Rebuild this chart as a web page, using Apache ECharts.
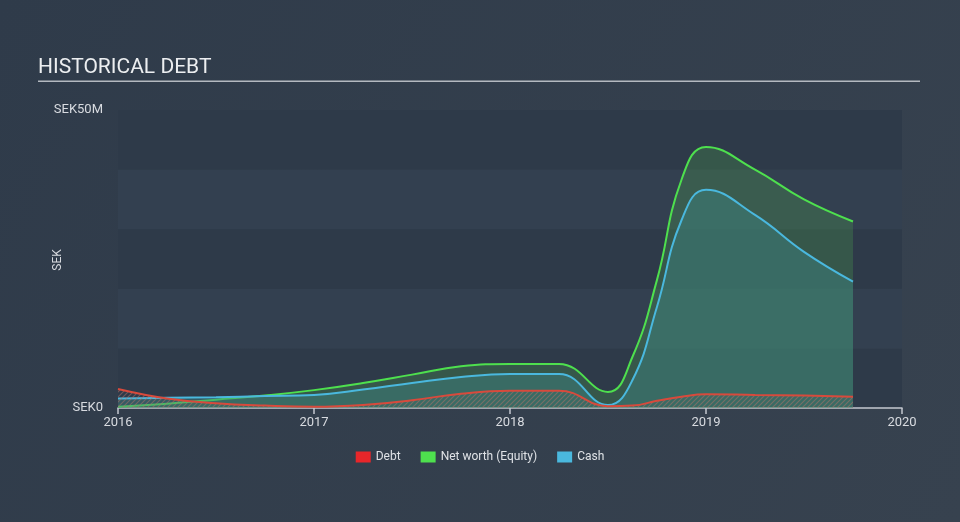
<!DOCTYPE html>
<html>
<head>
<meta charset="utf-8">
<script src="https://cdn.jsdelivr.net/npm/echarts@6/dist/echarts.min.js"></script>
<style>
html,body{margin:0;padding:0;background:#323e4c;}
#c{width:960px;height:522px;}
</style>
</head>
<body>
<div id="c"></div>
<script>
// Data (values in SEK millions)
const years = [2016, 2016.25, 2016.5, 2016.75, 2017, 2017.25, 2017.5, 2017.75, 2018, 2018.25, 2018.5, 2018.625, 2018.75, 2018.875, 2019, 2019.25, 2019.5, 2019.75];
const debt = [3.2, 1.6, 0.8, 0.4, 0.2, 0.5, 1.3, 2.4, 2.9, 2.9, 0.3, 0.4, 1.2, 1.9, 2.3, 2.2, 2.1, 1.9];
const netWorth = [0.2, 0.7, 1.4, 2.1, 3.0, 4.2, 5.6, 7.0, 7.4, 7.4, 2.7, 8.6, 21.5, 38.3, 43.8, 40.0, 35.0, 31.3];
const cash = [1.6, 1.7, 1.8, 2.0, 2.2, 3.1, 4.2, 5.2, 5.7, 5.7, 0.5, 4.7, 17.0, 31.5, 36.6, 32.4, 26.2, 21.2];
const xTicks = [2016, 2017, 2018, 2019, 2020];
const yLabels = {0: 'SEK0', 50: 'SEK50M'};

function pairs(v) { return years.map((y, i) => [y, v[i]]); }

// hatch pattern
const pc = document.createElement('canvas');
pc.width = 5; pc.height = 5;
const g = pc.getContext('2d');
g.strokeStyle = 'rgba(175,115,105,0.75)';
g.lineWidth = 1.2;
g.beginPath();
g.moveTo(-1, 6); g.lineTo(6, -1);
g.moveTo(-1, 1); g.lineTo(1, -1);
g.moveTo(4, 6); g.lineTo(6, 4);
g.stroke();

const chart = echarts.init(document.getElementById('c'), null, {renderer: 'canvas'});
const lbl = {fontFamily: 'Roboto', color: '#d8dbe0'};
const SM = 0.45;
chart.setOption({
  animation: false,
  backgroundColor: {
    type: 'linear', x: 0, y: 0, x2: 1, y2: 1,
    colorStops: [{offset: 0, color: '#2f3b4a'}, {offset: 1, color: '#37424f'}]
  },
  graphic: [
    {type: 'text', left: 38, top: 57, style: {text: 'HISTORICAL DEBT', fontFamily: 'Roboto', fontSize: 21, fill: '#eceef0'}},
    {type: 'rect', shape: {x: 38, y: 80.5, width: 882, height: 1.5}, style: {fill: '#b4b9c0'}},
    {type: 'text', x: 58, y: 260, rotation: Math.PI / 2, style: {text: 'SEK', fontFamily: 'Roboto', fontSize: 12, fill: '#d8dbe0', align: 'center', verticalAlign: 'middle'}}
  ],
  grid: {left: 118, right: 58, top: 110, bottom: 114},
  legend: {
    bottom: 54, left: 'center', itemWidth: 15, itemHeight: 11, itemGap: 20,
    icon: 'rect',
    textStyle: {fontFamily: 'Roboto', fontSize: 12, color: '#dfe2e6'},
    data: ['Debt', 'Net worth (Equity)', 'Cash']
  },
  xAxis: {
    type: 'value', min: 2016, max: 2020, interval: 1,
    axisLine: {lineStyle: {color: '#c3c8cf', width: 1.5}},
    axisTick: {show: true, length: 6, lineStyle: {color: '#c3c8cf', width: 1.5}},
    splitLine: {show: false},
    axisLabel: Object.assign({fontSize: 13, margin: 8, formatter: v => xTicks.includes(v) ? String(v) : ''}, lbl)
  },
  yAxis: {
    type: 'value', min: 0, max: 50, interval: 10,
    axisLine: {show: false}, axisTick: {show: false},
    splitLine: {show: false},
    splitArea: {show: true, areaStyle: {color: ['#2e3a49', '#334050']}},
    axisLabel: Object.assign({fontSize: 13, margin: 15, formatter: v => yLabels[v] || ''}, lbl)
  },
  series: [
    {
      name: 'Net worth (Equity)', type: 'line', data: pairs(netWorth), z: 2,
      smooth: SM, showSymbol: false, symbol: 'none',
      color: '#4ee04e',
      lineStyle: {color: '#4ee04e', width: 2},
      areaStyle: {color: 'rgba(80,170,80,0.38)'}
    },
    {
      name: 'Cash', type: 'line', data: pairs(cash), z: 3,
      smooth: SM, showSymbol: false, symbol: 'none',
      color: '#4ab8de',
      lineStyle: {color: '#4ab8de', width: 2},
      areaStyle: {color: 'rgba(62,135,135,0.6)'}
    },
    {
      name: 'Debt', type: 'line', data: pairs(debt), z: 4,
      smooth: SM, showSymbol: false, symbol: 'none',
      color: '#e8262a',
      lineStyle: {color: '#d84a3c', width: 2},
      areaStyle: {color: {image: pc, repeat: 'repeat'}}
    }
  ]
});
</script>
</body>
</html>
